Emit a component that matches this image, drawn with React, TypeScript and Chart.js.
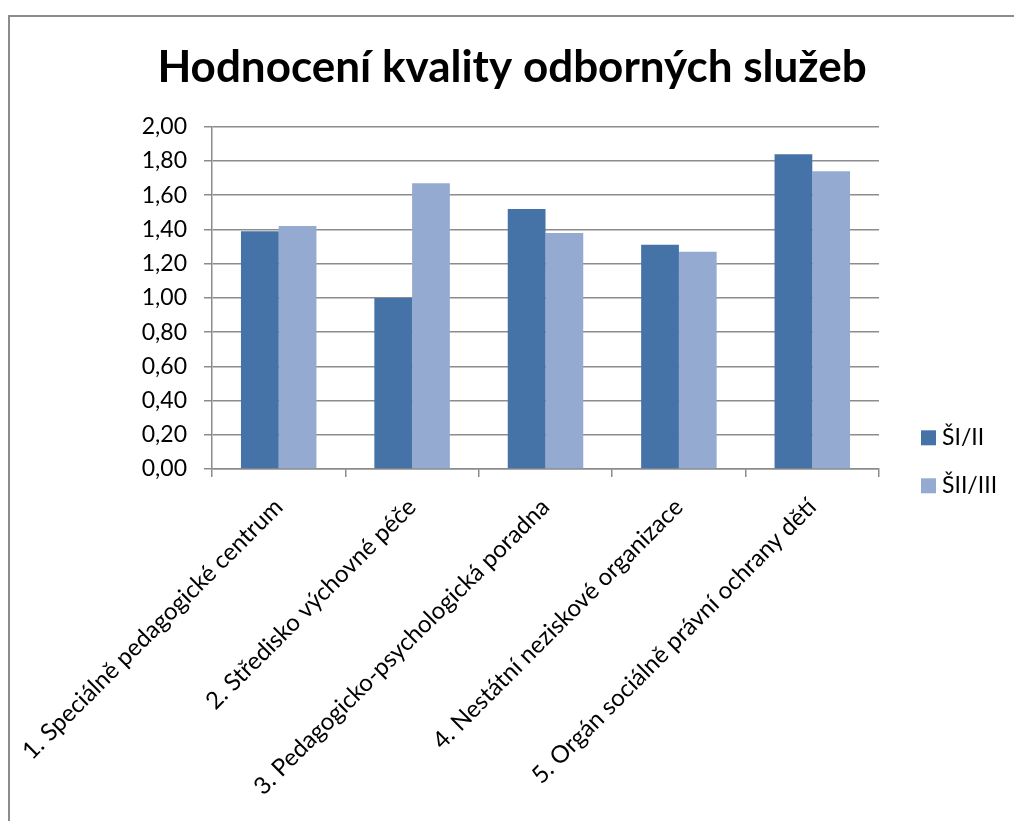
import React, { useEffect, useRef } from "react";
import { Chart, registerables } from "chart.js";

Chart.register(...registerables);

const chartTitle = "Hodnocení kvality odborných služeb";
const categories = [
  "1. Speciálně pedagogické centrum",
  "2. Středisko výchovné péče",
  "3. Pedagogicko-psychologická poradna",
  "4. Nestátní neziskové organizace",
  "5. Orgán sociálně právní ochrany dětí",
];
const seriesNames = ["ŠI/II", "ŠII/III"];
const seriesSI_II = [1.39, 1.0, 1.52, 1.31, 1.84];
const seriesSII_III = [1.42, 1.67, 1.38, 1.27, 1.74];
const yMin = 0;
const yMax = 2;
const yStep = 0.2;
const seriesColors = ["#4572A7", "#95AAD1"];

const FONT = "Lato, 'Open Sans', sans-serif";

const customLegend = {
  id: "customLegend",
  afterDraw(chart: any) {
    const { ctx, chartArea } = chart;
    ctx.save();
    ctx.font = `23px ${FONT}`;
    ctx.textBaseline = "middle";
    ctx.textAlign = "left";
    chart.data.datasets.forEach((ds: any, i: number) => {
      const x = chartArea.right + 42;
      const y = chartArea.top + 311 + i * 48;
      ctx.fillStyle = ds.backgroundColor;
      ctx.fillRect(x, y - 7.5, 15, 15);
      ctx.fillStyle = "#000";
      ctx.fillText(ds.label, x + 21, y);
    });
    ctx.restore();
  },
};

export default function App() {
  const ref = useRef<HTMLCanvasElement | null>(null);

  useEffect(() => {
    if (!ref.current) return;
    const chart = new Chart(ref.current, {
      type: "bar",
      data: {
        labels: categories,
        datasets: [
          { label: seriesNames[0], data: seriesSI_II, backgroundColor: seriesColors[0], yAxisID: "y" },
          { label: seriesNames[1], data: seriesSII_III, backgroundColor: seriesColors[1], yAxisID: "y" },
        ],
      },
      plugins: [customLegend],
      options: {
        animation: false,
        responsive: true,
        maintainAspectRatio: false,
        layout: { padding: 0 },
        datasets: {
          bar: { categoryPercentage: 0.566, barPercentage: 1.0 },
        },
        plugins: {
          legend: { display: false },
          tooltip: { enabled: false },
          title: {
            display: true,
            text: chartTitle,
            color: "#000",
            font: { family: FONT, size: 44, weight: "bold" },
            padding: { top: 24, bottom: 33 },
          },
        },
        scales: {
          x: {
            afterFit(scale: any) {
              scale.height = 352;
              scale.paddingLeft = 0;
              scale.paddingRight = 0;
            },
            grid: {
              offset: true,
              drawOnChartArea: false,
              drawTicks: true,
              tickLength: 8,
              color: "#8c8c8c",
              lineWidth: 1.5,
            },
            border: { color: "#8c8c8c", width: 1.5 },
            ticks: {
              color: "#000",
              font: { family: FONT, size: 24 },
              minRotation: 45,
              maxRotation: 45,
              autoSkip: false,
              padding: 16,
            },
          },
          y: {
            min: yMin,
            max: yMax,
            afterFit(scale: any) {
              scale.width = 202;
              scale.paddingTop = 0;
              scale.paddingBottom = 0;
            },
            grid: {
              color: "#8c8c8c",
              lineWidth: 1.5,
              tickLength: 8,
            },
            border: { color: "#8c8c8c", width: 1.5 },
            ticks: {
              stepSize: yStep,
              color: "#000",
              font: { family: FONT, size: 23 },
              padding: 17,
              callback: (v: any) => Number(v).toFixed(2).replace(".", ","),
            },
          },
          legendSpace: {
            type: "linear",
            position: "right",
            display: true,
            afterFit(scale: any) {
              scale.width = 135;
            },
            grid: { display: false, drawTicks: false },
            border: { display: false },
            ticks: { display: false },
          },
        },
      },
    });
    return () => chart.destroy();
  }, []);

  return (
    <div
      style={{
        position: "fixed",
        left: 8,
        top: 15,
        width: 1006,
        height: 806,
        borderLeft: "2px solid #8c8c8c",
        borderTop: "2px solid #8c8c8c",
        boxSizing: "border-box",
        background: "#fff",
      }}
    >
      <div style={{ position: "relative", width: 1004, height: 804 }}>
        <canvas ref={ref} />
      </div>
    </div>
  );
}
